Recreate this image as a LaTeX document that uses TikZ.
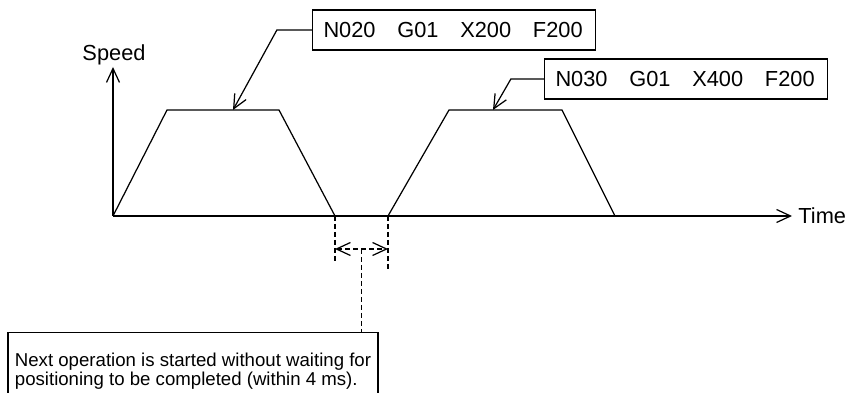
\documentclass[tikz,border=0pt]{standalone}
\usepackage{fontspec}
\setmainfont{Liberation Sans}
\usetikzlibrary{arrows.meta}

\begin{document}
\begin{tikzpicture}[line width=0.7pt,>={Straight Barb[length=2.8mm,width=2.6mm]},
  every node/.style={font=\fontsize{12.4}{14}\selectfont},
  cmdbox/.style={draw,text width=5.22cm,inner xsep=0.22cm,minimum height=0.8cm,align=left},
  gapline/.style={dash pattern=on 0.1cm off 0.06cm}]
  \clip (-2.26,-3.54) rectangle (14.88,4.32);
  \coordinate (orig) at (0,0);
  \coordinate (ytip) at (0,2.98);
  \coordinate (xtip) at (13.58,0);
  \draw[->] (orig) -- (ytip);
  \draw[->] (orig) -- (xtip);
  \node[anchor=base] (speedlbl) at (0.02,3.10) {Speed};
  \node[anchor=west] (timelbl) at (xtip) {Time};
  \foreach \a/\b/\c/\d in {0/1.08/3.32/4.44,5.50/6.72/8.98/10.04}
    \draw (\a,0) -- (\b,2.12) -- (\c,2.12) -- (\d,0);
  \coordinate (topA) at (2.40,2.12);
  \coordinate (topB) at (7.60,2.12);
  \node[cmdbox] (cmdA) at (6.82,3.72) {N020\quad G01\quad X200\quad F200};
  \node[cmdbox] (cmdB) at (11.46,2.74) {N030\quad G01\quad X400\quad F200};
  \draw[->] (cmdA.west) -- ++(-0.70,0) -- (topA);
  \draw[->] (cmdB.west) -- ++(-0.66,0) -- (topB);
  \coordinate (endA) at (4.44,0);
  \coordinate (startB) at (5.50,0);
  \coordinate (gapL) at (4.44,-0.66);
  \coordinate (gapR) at (5.50,-0.66);
  \coordinate (gapmid) at (4.97,-0.66);
  \draw[gapline] (endA) -- ++(0,-0.94);
  \draw[gapline] (startB) -- ++(0,-1.08);
  \draw[gapline,<->] (gapL) -- (gapR);
  \node[draw,anchor=north,minimum width=7.40cm,inner ysep=0.40cm,align=left,
    font=\fontsize{10.6}{11.2}\selectfont] (note) at (1.60,-2.32)
    {Next operation is started without waiting for\\positioning to be completed (within 4 ms).};
  \draw[gapline] (gapmid) -- (gapmid |- note.north);
\end{tikzpicture}
\end{document}
